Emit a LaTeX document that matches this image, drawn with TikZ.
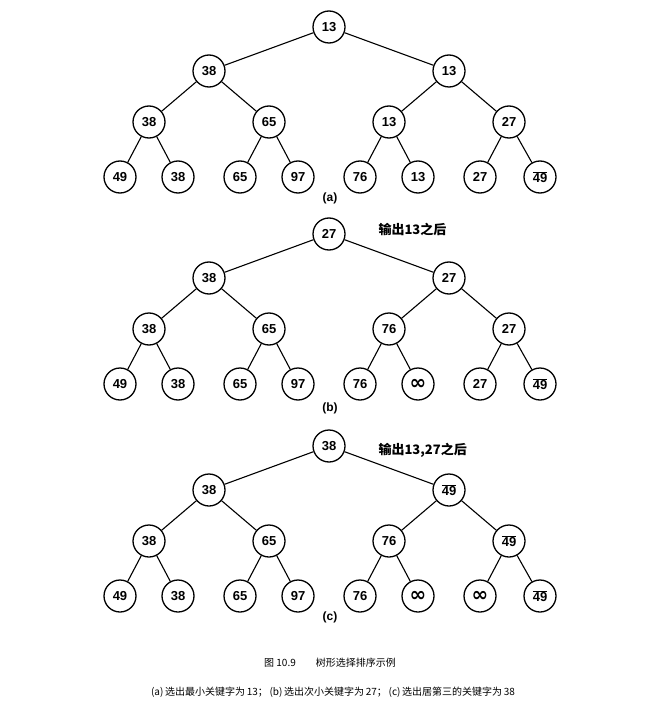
\documentclass[tikz,border=0pt]{standalone}
\usepackage{fontspec}
\setmainfont{Liberation Sans}
\newfontfamily\cjk{Noto Sans CJK SC}
\newfontfamily\djfont{DejaVu Sans}
\begin{document}
\begin{tikzpicture}[x=1pt,y=-1pt,
  nd/.style={circle,draw,line width=1.3pt,minimum size=32pt,inner sep=0pt,font=\fontsize{13}{13}\bfseries},
  ed/.style={line width=1.1pt}]
\useasboundingbox (0,0) rectangle (661,714);
\newcommand{\ovnine}{$\overline{\mbox{\bfseries 49}}$}
\newcommand{\infsym}{{\djfont\fontsize{20}{20}\bfseries ∞}}
\foreach \t/\y/\r/\la/\lb/\lc/\ld/\le/\lf/\lg/\lh/\li/\lj/\lk/\ll/\lm/\ln in {
 a/27/13/38/13/38/65/13/27/49/38/65/97/76/13/27/\ovnine,
 b/234/27/38/27/38/65/76/27/49/38/65/97/76/\infsym/27/\ovnine,
 c/446/38/38/\ovnine/38/65/76/\ovnine/49/38/65/97/76/\infsym/\infsym/\ovnine}{
 \pgfmathsetmacro{\ya}{\y+44}
 \pgfmathsetmacro{\yb}{\y+95}
 \pgfmathsetmacro{\yc}{\y+150}
 \node[nd] (\t0) at (329,\y) {\r};
 \node[nd] (\t1) at (209,\ya) {\la};
 \node[nd] (\t2) at (449,\ya) {\lb};
 \node[nd] (\t3) at (149,\yb) {\lc};
 \node[nd] (\t4) at (269,\yb) {\ld};
 \node[nd] (\t5) at (389,\yb) {\le};
 \node[nd] (\t6) at (509,\yb) {\lf};
 \node[nd] (\t7) at (120,\yc) {\lg};
 \node[nd] (\t8) at (178,\yc) {\lh};
 \node[nd] (\t9) at (240,\yc) {\li};
 \node[nd] (\t10) at (298,\yc) {\lj};
 \node[nd] (\t11) at (360,\yc) {\lk};
 \node[nd] (\t12) at (418,\yc) {\ll};
 \node[nd] (\t13) at (480,\yc) {\lm};
 \node[nd] (\t14) at (540,\yc) {\ln};
 \draw[ed] (\t0)--(\t1) (\t0)--(\t2) (\t1)--(\t3) (\t1)--(\t4) (\t2)--(\t5) (\t2)--(\t6)
  (\t3)--(\t7) (\t3)--(\t8) (\t4)--(\t9) (\t4)--(\t10) (\t5)--(\t11) (\t5)--(\t12) (\t6)--(\t13) (\t6)--(\t14);
}
\node[font=\fontsize{12}{12}\bfseries] (la) at (330,198) {(a)};
\node[font=\fontsize{12}{12}\bfseries] (lb) at (330,408) {(b)};
\node[font=\fontsize{12}{12}\bfseries] (lc) at (330,617) {(c)};
\node[font=\cjk\fontsize{13}{13}\bfseries,anchor=west] (na) at (375,229) {输出13之后};
\node[font=\cjk\fontsize{13}{13}\bfseries,anchor=west] (nb) at (375,450) {输出13,27之后};
\node[font=\cjk\fontsize{16}{16}] (cap) at (330,663) {图 10.9\hspace{20pt}树形选择排序示例};
\node[font=\cjk\fontsize{15.5}{15.5}] (cap2) at (333,692) {(a)\,选出最小关键字为\,13；\,(b)\,选出次小关键字为\,27；\,(c)\,选出居第三的关键字为\,38};
\end{tikzpicture}
\end{document}
